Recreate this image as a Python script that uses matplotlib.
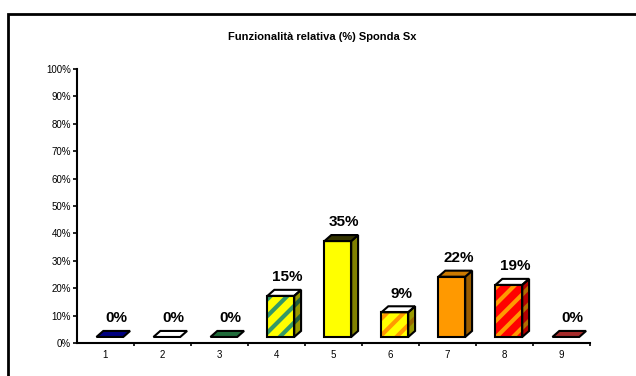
import matplotlib
matplotlib.use("Agg")
import matplotlib.pyplot as plt
from matplotlib.patches import Polygon, Rectangle

plt.rcParams['font.family'] = ['Liberation Sans', 'DejaVu Sans']
plt.rcParams['hatch.linewidth'] = 3.0

# dati
categorie = ['1', '2', '3', '4', '5', '6', '7', '8', '9']
valori = [0, 0, 0, 15, 35, 9, 22, 19, 0]
titolo = 'Funzionalità relativa (%) Sponda Sx'
etichette_y = ['0%', '10%', '20%', '30%', '40%', '50%', '60%', '70%', '80%', '90%', '100%']

# colori: fronte, tratteggio fronte, lato, tratteggio lato, sopra
stili = [
    ('#000080', None, '#000040', None, '#000080'),
    ('#ffffff', None, '#339966', None, '#ffffff'),
    ('#1f6b3a', None, '#0f3d20', None, '#1f6b3a'),
    ('#ffff00', '#339966', '#999900', '#1f5c3d', '#ffffff'),
    ('#ffff00', None, '#808000', None, '#333300'),
    ('#ffff00', '#ff9900', '#999900', '#996600', '#ffffff'),
    ('#ff9900', None, '#995c00', None, '#cc7a00'),
    ('#ff0000', '#ff9900', '#b30000', '#b36b00', '#ffffff'),
    ('#a52a2a', None, '#5c1717', None, '#a52a2a'),
]

fig = plt.figure(figsize=(6.36, 3.76), dpi=100)
ax = fig.add_axes([76.5 / 636, 33 / 376, 513 / 636, 274 / 376])
ax.set_xlim(0, 9)
ax.set_ylim(0, 100)

base = 2.2   # la base delle colonne
dx, dy = 0.12, 2.2   # profondità 3D
sx, ex = -0.15, 0.32


def faccia(pts, fc, hc):
    if hc is None:
        ax.add_patch(Polygon(pts, closed=True, fc=fc, ec='black', lw=1.5, zorder=3))
    else:
        ax.add_patch(Polygon(pts, closed=True, fc=fc, ec=hc, lw=0, hatch='//', zorder=3))
        ax.add_patch(Polygon(pts, closed=True, fill=False, ec='black', lw=1.5, zorder=4))


for i, v in enumerate(valori):
    c = i + 0.5
    x0, x1 = c + sx, c + ex
    y0, y1 = base, base + v
    fc, fh, lc, lh, tc = stili[i]
    if v > 0:
        faccia([(x0, y0), (x1, y0), (x1, y1), (x0, y1)], fc, fh)
        faccia([(x1, y0), (x1 + dx, y0 + dy), (x1 + dx, y1 + dy), (x1, y1)], lc, lh)
    faccia([(x0, y1), (x1, y1), (x1 + dx, y1 + dy), (x0 + dx, y1 + dy)], tc, None)
    ax.annotate(f'{v}%', (c + 0.2, y1 + dy), xytext=(0, 4), textcoords='offset points',
                ha='center', va='bottom', fontsize=11, fontweight='bold', zorder=5)

for s in ['top', 'right']:
    ax.spines[s].set_visible(False)
ax.spines['left'].set_linewidth(1.5)
ax.spines['bottom'].set_linewidth(1.5)

ax.set_yticks(range(0, 101, 10))
ax.set_yticklabels(etichette_y, fontsize=7)
ax.tick_params(axis='y', length=3, width=1.2, pad=1)

ax.set_xticks(range(1, 10))
ax.set_xticklabels([])
ax.tick_params(axis='x', which='major', direction='out', length=2.5, width=1.2)
ax.set_xticks([i + 0.5 for i in range(9)], minor=True)
ax.set_xticklabels(categorie, minor=True, fontsize=7)
ax.tick_params(axis='x', which='minor', length=0, pad=5)

fig.text(322 / 636, 1 - 37 / 376, titolo, ha='center', va='center',
         fontsize=8, fontweight='bold')

fig.patches.append(Rectangle((8 / 636, -0.1), 1.0, 1 - 14 / 376 + 0.1,
                             transform=fig.transFigure, fill=False, ec='black', lw=2))

fig.savefig('out.png', dpi=100)
